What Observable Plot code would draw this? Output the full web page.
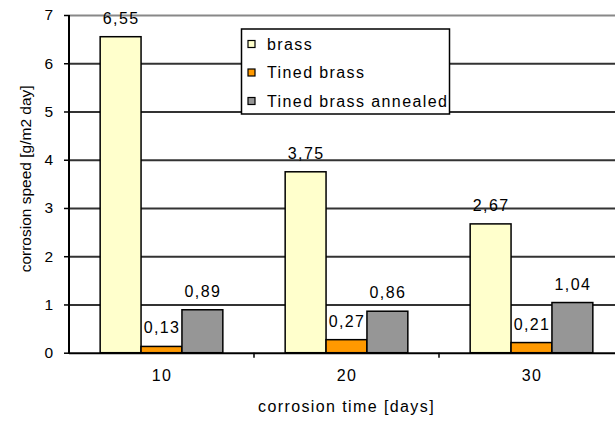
<!DOCTYPE html>
<html><head><meta charset="utf-8">
<script src="https://cdn.jsdelivr.net/npm/d3@7"></script>
<script src="https://cdn.jsdelivr.net/npm/@observablehq/plot@0.6"></script>
<style>
body{margin:0;background:#fff;overflow:hidden}
#chart{position:relative;width:615px;height:421px;overflow:hidden}
</style></head><body><div id="chart"></div>
<script>
const days = [10, 20, 30];
const series = ["brass", "Tined brass", "Tined brass annealed"];
const colors = ["#FFFFCC", "#FF9900", "#969696"];
const brass = [6.55, 3.75, 2.67];
const tinedBrass = [0.13, 0.27, 0.21];
const tinedBrassAnnealed = [0.89, 0.86, 1.04];
const yTicks = [0, 1, 2, 3, 4, 5, 6, 7];
const xTitle = "corrosion time [days]";
const yTitle = "corrosion speed [g/m2 day]";

const values = [brass, tinedBrass, tinedBrassAnnealed];
const data = days.flatMap((day, i) => series.map((s, j) => ({day, series: s, value: values[j][i]})));
const fmt = v => d3.format(".2f")(v).replace(".", ",");

const W = 615, H = 421;
const FONT = "'Liberation Sans', Arial, sans-serif";
const chart = Plot.plot({
  width: W, height: H,
  marginLeft: 68, marginTop: 15, marginBottom: 68.3, marginRight: -9.5,
  style: {fontFamily: FONT, fontSize: "16px", letterSpacing: "1.4px", background: "white", overflow: "hidden", color: "black"},
  fx: {domain: days, padding: 0, label: null},
  x: {domain: series, paddingInner: 0, paddingOuter: 0.762, round: false, axis: null},
  y: {domain: [0, 7], label: null},
  color: {domain: series, range: colors},
  marks: [
    Plot.ruleY(yTicks.filter(t => t > 0 && t < 7), {stroke: "#333", strokeWidth: 2}),
    Plot.ruleY([7], {stroke: "#888", strokeWidth: 2}),
    Plot.barY(data, {fx: "day", x: "series", y: "value", fill: "series", stroke: "black", strokeWidth: 1.5}),
    Plot.ruleY([0], {stroke: "black", strokeWidth: 2}),
    Plot.text(data, {fx: "day", x: "series", y: "value", text: d => fmt(d.value), lineAnchor: "bottom", dy: -13.5, fill: "black", fontSize: 16}),
    Plot.axisY(yTicks, {tickSize: 5, tickPadding: 10, stroke: "black", strokeWidth: 1.5, strokeOpacity: 1, fill: "black", label: null, fontSize: 15.5}),
    Plot.axisFx({anchor: "bottom", tickSize: 0, tickPadding: 16, label: null, fontSize: 16, fill: "black"})
  ]
});
document.getElementById("chart").append(chart);

// overlay: axis line, boundary ticks, titles, legend — positioned with the plot's own scales
const svg = d3.select(chart);
const fxS = chart.scale("fx");
const yS = chart.scale("y");
const y0 = yS.apply(0), y7 = yS.apply(7);
const bw = fxS.bandwidth;
const left = fxS.apply(days[0]);
svg.append("line").attr("x1", left).attr("x2", left).attr("y1", y7).attr("y2", y0 + 1)
  .attr("stroke", "black").attr("stroke-width", 2);
days.forEach(d => {
  const xr = fxS.apply(d) + bw;
  svg.append("line").attr("x1", xr).attr("x2", xr).attr("y1", y0).attr("y2", y0 + 5)
    .attr("stroke", "black").attr("stroke-width", 1.5);
});
const plotRight = fxS.apply(days[days.length - 1]) + bw;
svg.append("text").attr("x", (left + plotRight) / 2).attr("y", 411.5)
  .attr("text-anchor", "middle").attr("fill", "black").attr("font-size", 16).text(xTitle);
svg.append("text").attr("transform", `translate(26,${(y7 + y0) / 2 - 5}) rotate(-90)`)
  .attr("text-anchor", "middle").attr("dy", "0.35em").attr("fill", "black")
  .attr("font-size", 15.5).style("letter-spacing", "0px").text(yTitle);

const lg = svg.append("g").attr("text-anchor", "start");
lg.append("rect").attr("x", 241.5).attr("y", 29).attr("width", 208).attr("height", 85)
  .attr("fill", "white").attr("stroke", "black").attr("stroke-width", 1.5);
series.forEach((s, i) => {
  const cy = 44 + i * 28.5;
  lg.append("rect").attr("x", 248).attr("y", cy - 3.5).attr("width", 7).attr("height", 7)
    .attr("fill", colors[i]).attr("stroke", "black").attr("stroke-width", 1.2);
  lg.append("text").attr("x", 267).attr("y", cy).attr("dy", "0.35em").attr("fill", "black")
    .attr("text-anchor", "start").attr("font-size", 16).text(s);
});
</script></body></html>
